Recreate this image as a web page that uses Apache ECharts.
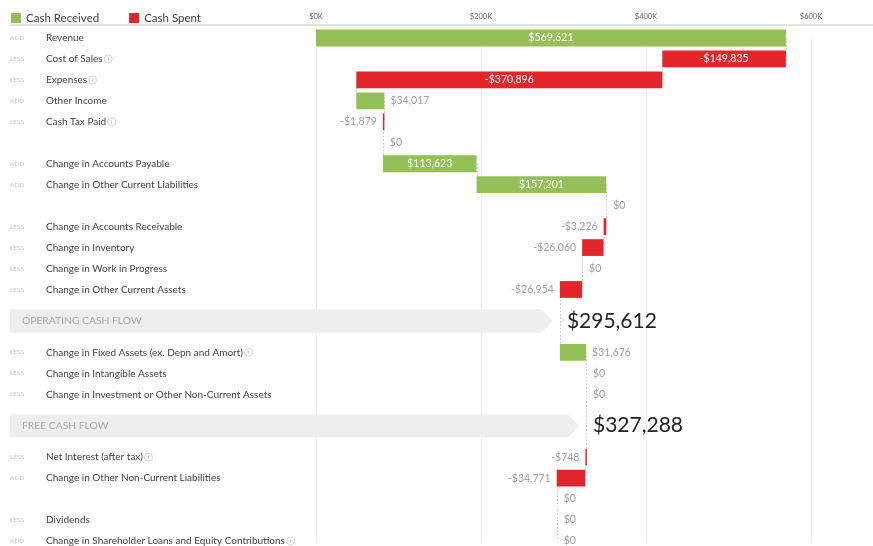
<!DOCTYPE html>
<html>
<head>
<meta charset="utf-8">
<script src="https://cdn.jsdelivr.net/npm/echarts@6/dist/echarts.min.js"></script>
<style>html,body{margin:0;padding:0;background:#fff}#c{width:873px;height:546px}</style>
</head>
<body>
<div id="c"></div>
<script>
// ---- data ----
const rowKinds  = ['row','row','row','row','row','row','row','row','row','row','row','row','row','total','row','row','row','total','row','row','row','row','row'];
const rowTags   = ['ADD','LESS','LESS','ADD','LESS','','ADD','ADD','','LESS','LESS','LESS','LESS','','LESS','LESS','LESS','','LESS','ADD','','LESS','ADD'];
const rowNames  = ['Revenue','Cost of Sales','Expenses','Other Income','Cash Tax Paid','','Change in Accounts Payable','Change in Other Current Liabilities','','Change in Accounts Receivable','Change in Inventory','Change in Work in Progress','Change in Other Current Assets','OPERATING CASH FLOW','Change in Fixed Assets (ex. Depn and Amort)','Change in Intangible Assets','Change in Investment or Other Non-Current Assets','FREE CASH FLOW','Net Interest (after tax)','Change in Other Non-Current Liabilities','','Dividends','Change in Shareholder Loans and Equity Contributions'];
const rowInfo   = [false,true,true,false,true,false,false,false,false,false,false,false,false,false,true,false,false,false,true,false,false,false,true];
const rowValues = [569621,-149835,-370896,34017,-1879,0,113623,157201,0,-3226,-26060,0,-26954,null,31676,0,0,null,-748,-34771,0,0,0];
const axisMin = 0, axisMax = 600000, axisInterval = 200000;

const GREEN = '#93c057', RED = '#e2262c';
const FONT = 'Lato, "Open Sans", sans-serif';

// ---- build ----
const cats = [], received = [], spent = [], zeros = [], connectors = [], banners = [];
let running = 0, prevIdx = null;
rowKinds.forEach((k, i) => {
  const idx = cats.length;
  if (k === 'total') {
    cats.push(idx + '|T|' + rowNames[i] + '|0');
    cats.push((idx + 1) + '|S||0');
    banners.push([running, idx, idx + 1, rowNames[i]]);
    return;
  }
  cats.push(idx + '|' + rowTags[i] + '|' + rowNames[i] + '|' + (rowInfo[i] ? 1 : 0));
  const v = rowValues[i];
  const s = running, e = running + v;
  if (v > 0) received.push([s, e, idx, v]);
  else if (v < 0) spent.push([s, e, idx, v]);
  else zeros.push([s, idx]);
  if (prevIdx !== null) connectors.push([s, prevIdx, idx]);
  running = e; prevIdx = idx;
});

function fmt(v) {
  return (v < 0 ? '-' : '') + '$' + Math.abs(Math.round(v)).toLocaleString('en-US');
}

function barRender(color) {
  return function (params, api) {
    const s = api.value(0), e = api.value(1), c = api.value(2), v = api.value(3);
    const a = api.coord([s, c]), b = api.coord([e, c]);
    const h = api.size([0, 1])[1] * 0.8;
    const x0 = Math.min(a[0], b[0]);
    const w = Math.max(Math.abs(b[0] - a[0]), 1.5);
    const inside = w > 60;
    return {
      type: 'rect',
      shape: { x: x0, y: a[1] - h / 2, width: w, height: h },
      style: { fill: color },
      textContent: { style: { text: fmt(v), fill: inside ? '#ffffff' : '#a0a0a0', fontSize: 10.5, fontFamily: FONT } },
      textConfig: { position: inside ? 'inside' : (v > 0 ? 'right' : 'left'), distance: 6 }
    };
  };
}

const chart = echarts.init(document.getElementById('c'), null, { renderer: 'canvas' });
chart.setOption({
  animation: false,
  backgroundColor: '#ffffff',
  textStyle: { fontFamily: FONT },
  legend: {
    left: 6, top: 7, itemWidth: 10, itemHeight: 10, itemGap: 30, icon: 'rect',
    textStyle: { fontSize: 11.5, color: '#444', fontFamily: FONT },
    data: ['Cash Received', 'Cash Spent']
  },
  graphic: [
    { type: 'rect', shape: { x: 10, y: 24, width: 863, height: 2 }, style: { fill: '#e4e4e4' }, z: 1 }
  ],
  grid: { left: 316, right: 62, top: 38, height: 507 },
  xAxis: {
    type: 'value', position: 'top', min: axisMin, max: axisMax, interval: axisInterval,
    axisLine: { show: false }, axisTick: { show: false },
    axisLabel: { formatter: v => '$' + (v / 1000) + 'K', fontSize: 7.5, color: '#666', margin: 17, fontFamily: FONT },
    splitLine: { show: true, lineStyle: { color: '#eeeeee', width: 1 } }
  },
  yAxis: {
    type: 'category', inverse: true, data: cats, boundaryGap: false,
    axisLine: { show: false }, axisTick: { show: false }, splitLine: { show: false },
    axisLabel: {
      interval: 0, align: 'left', margin: 306,
      formatter: function (val) {
        const p = val.split('|');
        if (p[1] === 'T' || p[1] === 'S') return '';
        let t = '{tag|' + p[1] + '}{name|' + p[2] + '}';
        if (p[3] === '1') t += '{sp| }{info|i}';
        return t;
      },
      rich: {
        tag: { width: 36, fontSize: 6.5, color: '#c4c4c4', fontFamily: FONT },
        name: { fontSize: 10, color: '#444', fontFamily: FONT },
        sp: { fontSize: 6 },
        info: { fontSize: 6, color: '#bbb', borderColor: '#c8c8c8', borderWidth: 0.8, borderRadius: 5, width: 8, height: 8, lineHeight: 8, align: 'center', fontFamily: FONT }
      }
    }
  },
  series: [
    {
      type: 'custom', name: 'connectors', z: 1, silent: true,
      encode: { x: 0, y: [1, 2] },
      data: connectors,
      renderItem: function (params, api) {
        const x = api.value(0);
        const a = api.coord([x, api.value(1)]), b = api.coord([x, api.value(2)]);
        return { type: 'line', shape: { x1: Math.round(a[0]) + 0.5, y1: a[1], x2: Math.round(a[0]) + 0.5, y2: b[1] },
          style: { stroke: '#c4c4c4', lineWidth: 1, lineDash: [1.5, 2] } };
      }
    },
    {
      type: 'custom', name: 'Cash Received', z: 3, itemStyle: { color: GREEN },
      encode: { x: [0, 1], y: 2 }, data: received, renderItem: barRender(GREEN)
    },
    {
      type: 'custom', name: 'Cash Spent', z: 3, itemStyle: { color: RED },
      encode: { x: [0, 1], y: 2 }, data: spent, renderItem: barRender(RED)
    },
    {
      type: 'custom', name: 'zeros', z: 3, silent: true,
      encode: { x: 0, y: 1 }, data: zeros,
      renderItem: function (params, api) {
        const p = api.coord([api.value(0), api.value(1)]);
        return { type: 'text', x: p[0] + 7, y: p[1],
          style: { text: '$0', fill: '#a0a0a0', fontSize: 10.5, fontFamily: FONT, verticalAlign: 'middle', align: 'left' } };
      }
    },
    {
      type: 'custom', name: 'banners', z: 4, silent: true,
      encode: { x: 0, y: [1, 2] },
      data: banners,
      renderItem: function (params, api) {
        const v = api.value(0);
        const a = api.coord([v, api.value(1)]), b = api.coord([v, api.value(2)]);
        const y = (a[1] + b[1]) / 2;
        const x = a[0];
        const left = api.coord([0, api.value(1)])[0] - 306;
        const tip = x - 7, h = 23, d = 11;
        const label = banners[params.dataIndex][3];
        return {
          type: 'group',
          children: [
            { type: 'polygon', shape: { points: [[left, y - h / 2], [tip - d, y - h / 2], [tip, y], [tip - d, y + h / 2], [left, y + h / 2]] },
              style: { fill: '#eeeeee' } },
            { type: 'text', x: left + 12, y: y, style: { text: label, fill: '#aaaaaa', fontSize: 10.3, fontFamily: FONT, verticalAlign: 'middle' } },
            { type: 'text', x: x + 7, y: y, style: { text: fmt(v), fill: '#222222', fontSize: 21, fontFamily: FONT, verticalAlign: 'middle' } }
          ]
        };
      }
    }
  ]
});
</script>
</body>
</html>
